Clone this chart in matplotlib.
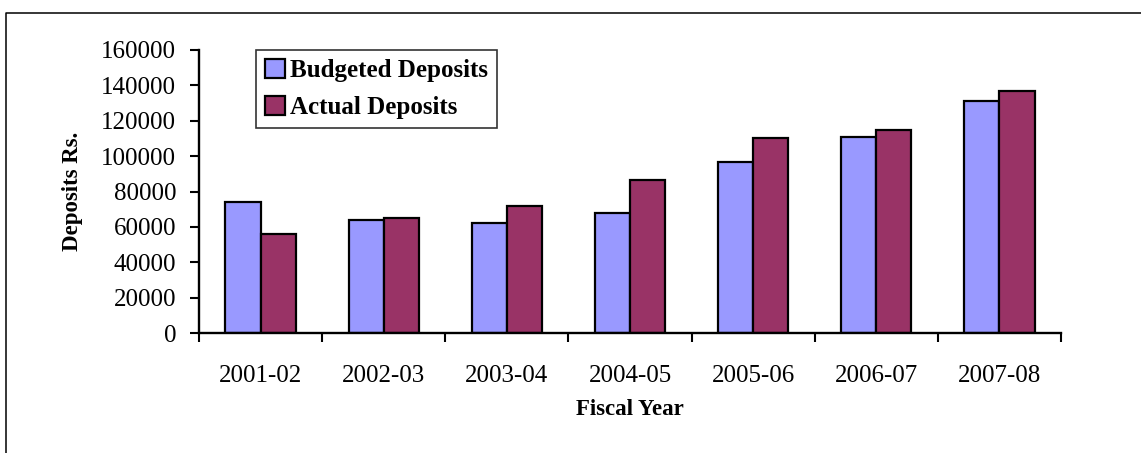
import numpy as np
import matplotlib
matplotlib.use("Agg")
import matplotlib.pyplot as plt
from matplotlib.lines import Line2D

years = ["2001-02", "2002-03", "2003-04", "2004-05", "2005-06", "2006-07", "2007-08"]
budgeted = [74000, 64000, 62000, 68000, 96500, 111000, 131000]
actual = [56000, 65000, 72000, 86500, 110000, 114500, 137000]

plt.rcParams["font.family"] = ["Liberation Serif", "DejaVu Serif"]

W, H = 1141, 453
fig = plt.figure(figsize=(W / 100, H / 100), dpi=100)
ax = fig.add_axes([199 / W, 1 - 333 / H, 862 / W, 283 / H])

x = np.arange(len(years))
bw = 1 / 3.5  # excel gap width 150%
ax.bar(x - bw / 2, budgeted, bw, color="#9999FF", edgecolor="black", lw=1.6,
       label="Budgeted Deposits", zorder=2)
ax.bar(x + bw / 2, actual, bw, color="#993366", edgecolor="black", lw=1.6,
       label="Actual Deposits", zorder=2)

ax.set_xlim(-0.5, len(years) - 0.5)
ax.set_ylim(0, 160000)
ax.set_yticks(np.arange(0, 160001, 20000))
ax.set_xticks(x)
ax.set_xticklabels(years)
ax.set_xticks(np.arange(-0.5, len(years)), minor=True)
ax.tick_params(axis="x", which="major", length=0, pad=23, labelsize=18)
ax.tick_params(axis="x", which="minor", length=6.5, width=1.5, direction="out")
ax.tick_params(axis="y", length=6.5, width=1.5, pad=10, labelsize=18)

for s in ["top", "right"]:
    ax.spines[s].set_visible(False)
for s in ["left", "bottom"]:
    ax.spines[s].set_linewidth(1.7)

ax.set_xlabel("Fiscal Year", fontsize=16.5, fontweight="bold", labelpad=9)
ax.set_ylabel("Deposits Rs.", fontsize=16.5, fontweight="bold", labelpad=13)

leg = ax.legend(loc="upper left", bbox_to_anchor=(57 / 862, 1.0), fontsize=18,
                prop={"weight": "bold", "size": 18}, frameon=True, fancybox=False,
                borderpad=0.35, handlelength=0.8, handleheight=0.8,
                handletextpad=0.2, labelspacing=0.55, borderaxespad=0)
leg.get_frame().set_edgecolor("black")
leg.get_frame().set_linewidth(1.2)

# outer chart-area border (open on right and bottom)
fig.add_artist(Line2D([6 / W, 6 / W, 1.01], [-0.01, 1 - 12.5 / H, 1 - 12.5 / H],
                      color="black", lw=1.1))

fig.savefig("out.png", dpi=100)
